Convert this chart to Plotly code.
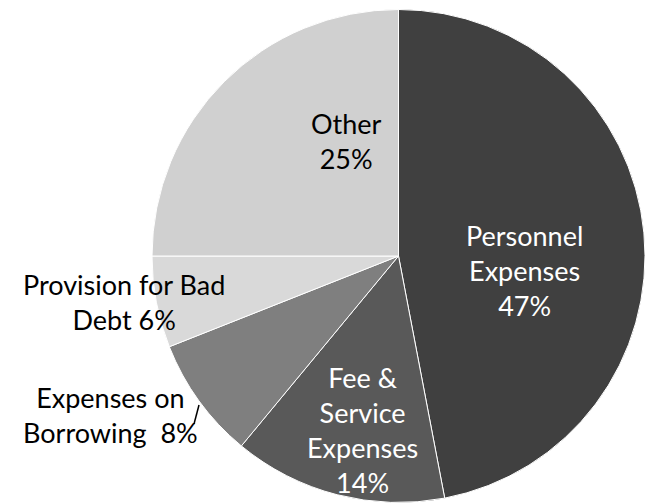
import plotly.graph_objects as go

# Expense breakdown (percent of total)
categories = ["Personnel Expenses", "Fee & Service Expenses", "Expenses on Borrowing",
              "Provision for Bad Debt", "Other"]
shares = [47, 14, 8, 6, 25]
slice_colors = ["#404040", "#595959", "#7f7f7f", "#d9d9d9", "#d0d0d0"]

# Label text (wrapped) for each slice
label_lines = ["Personnel<br>Expenses", "Fee &<br>Service<br>Expenses", "Expenses on<br>Borrowing ",
               "Provision for Bad<br>Debt", "Other"]

W, H = 645, 504
cx, cy, r = 399, 256, 247

fig = go.Figure(go.Pie(
    labels=categories,
    values=shares,
    sort=False,
    direction="clockwise",
    rotation=0,
    marker=dict(colors=slice_colors, line=dict(color="white", width=1)),
    textinfo="none",
    hoverinfo="label+percent",
    showlegend=False,
    domain=dict(x=[(cx - r) / W, 1.0], y=[1 - (cy + r) / H, 1 - (cy - r) / H]),
))

# label placement (pixel centres), separator, text colour
placement = [
    ((524, 270), "<br>", "white"),
    ((362, 430), "<br>", "white"),
    ((110, 415), " ", "black"),
    ((124, 302), " ", "black"),
    ((346, 141), "<br>", "black"),
]

for text, val, (pos, sep, col) in zip(label_lines, shares, placement):
    fig.add_annotation(
        x=pos[0] / W, y=1 - pos[1] / H, xref="paper", yref="paper",
        text=f"{text}{sep}{val}%", showarrow=False,
        xanchor="center", yanchor="middle", align="center",
        font=dict(family="Lato, Open Sans, sans-serif", size=27, color=col),
    )

# leader line for the small borrowing slice
fig.add_shape(type="line", xref="paper", yref="paper",
              x0=194 / W, y0=1 - 424 / H, x1=199 / W, y1=1 - 405 / H,
              line=dict(color="black", width=1.5))

fig.update_layout(
    width=W, height=H,
    margin=dict(l=0, r=0, t=0, b=0),
    paper_bgcolor="white", plot_bgcolor="white",
)

fig.write_html("out.html")
